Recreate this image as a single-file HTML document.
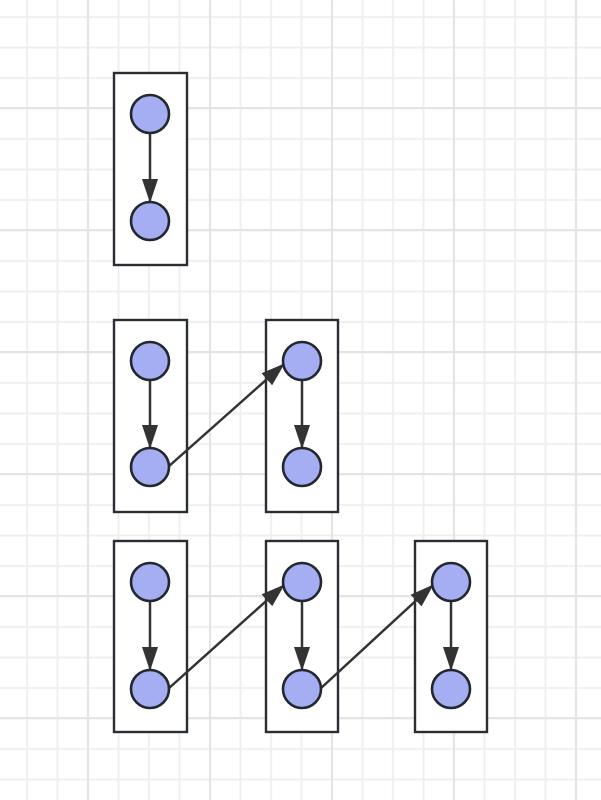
<!DOCTYPE html><html><head><style>body{margin:0}svg{display:block}</style></head><body>
<svg width="601" height="800" xmlns="http://www.w3.org/2000/svg">
<defs>
<pattern id="g" x="11.75" y="1.75" width="30.5" height="30.5" patternUnits="userSpaceOnUse"><path d="M15.25 0V30.5M0 15.25H30.5" stroke="#efefef" stroke-width="2" fill="none"/></pattern>
<pattern id="G" x="27" y="47" width="122" height="122" patternUnits="userSpaceOnUse"><path d="M61 0V122M0 61H122" stroke="#e4e4e4" stroke-width="2" fill="none"/></pattern>
<marker id="b" markerWidth="24" markerHeight="16" refX="23" refY="8" orient="auto" markerUnits="userSpaceOnUse" viewBox="0 0 24 16"><path d="M0 0L24 8L0 16z" fill="#333"/></marker>
</defs>
<rect width="601" height="800" fill="#fff"/>
<rect width="601" height="800" fill="url(#g)"/>
<rect width="601" height="800" fill="url(#G)"/>
<g stroke="#2a2e33" stroke-width="2.4" fill="#fff">
<rect x="114" y="73" width="73" height="192"/>
<rect x="114" y="320" width="73" height="192"/>
<rect x="266" y="320" width="72" height="192"/>
<rect x="114" y="541" width="73" height="191"/>
<rect x="266" y="541" width="72" height="191"/>
<rect x="415" y="541" width="72" height="191"/>
</g>
<g stroke="#333" stroke-width="2.5" marker-end="url(#b)">
<line x1="150" y1="133" x2="150" y2="202"/>
<line x1="150" y1="380" x2="150" y2="448"/>
<line x1="302" y1="380" x2="302" y2="448"/>
<line x1="150" y1="601" x2="150" y2="670"/>
<line x1="302" y1="601" x2="302" y2="670"/>
<line x1="451" y1="601" x2="451" y2="670"/>
<line x1="168" y1="467" x2="284" y2="364"/>
<line x1="168" y1="689" x2="284" y2="585"/>
<line x1="320" y1="689" x2="433" y2="585"/>
</g>
<g fill="#a5aef2" stroke="#23282e" stroke-width="2.6">
<circle cx="150" cy="114" r="19"/><circle cx="150" cy="221" r="19"/>
<circle cx="150" cy="361" r="19"/><circle cx="150" cy="467" r="19"/>
<circle cx="302" cy="361" r="19"/><circle cx="302" cy="467" r="19"/>
<circle cx="150" cy="582" r="19"/><circle cx="150" cy="689" r="19"/>
<circle cx="302" cy="582" r="19"/><circle cx="302" cy="689" r="19"/>
<circle cx="451" cy="582" r="19"/><circle cx="451" cy="689" r="19"/>
</g>
</svg>
</body></html>
